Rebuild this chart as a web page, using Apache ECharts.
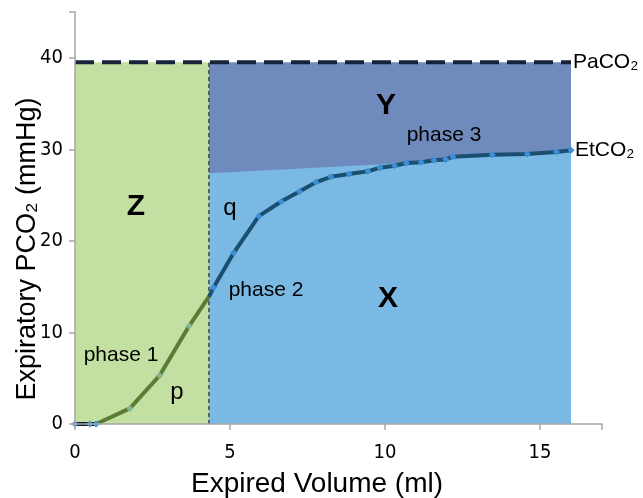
<!DOCTYPE html>
<html><head><meta charset="utf-8">
<script src="https://cdn.jsdelivr.net/npm/echarts@6/dist/echarts.min.js"></script>
<style>html,body{margin:0;padding:0;background:#fff}#c{width:643px;height:498px}</style>
</head><body><div id="c"></div>
<script>
// ---- data ----
const xTicks = [0, 5, 10, 15];
const yTicks = [0, 10, 20, 30, 40];
const paCO2 = 39.5;
const deadSpaceEnd = 4.32;
const volumeEnd = 16;
const baselineSeg = [[0, 0], [0.48, 0], [0.68, 0]];
const phase1Seg = [[0.68, 0], [1.77, 1.7], [2.73, 5.3], [3.68, 10.7], [4.32, 13.9]];
const phase23Seg = [[4.32, 13.9], [4.47, 14.9], [5.12, 18.7], [5.93, 22.7], [6.65, 24.3], [7.24, 25.4],
  [7.77, 26.4], [8.25, 27.0], [8.84, 27.3], [9.45, 27.6], [9.84, 28.0], [10.31, 28.2], [10.69, 28.5],
  [11.17, 28.6], [11.58, 28.8], [11.96, 28.9], [12.19, 29.2], [13.46, 29.4], [14.59, 29.5],
  [15.53, 29.7], [16.0, 29.9]];
const alveolarStart = [4.32, 27.4];

// ---- derived ----
const alveolarTop = [alveolarStart].concat(phase23Seg.filter(p => p[0] >= 10.69));
function withMarkers(seg, skipFirst, skipLast) {
  return seg.map((p, i) => {
    const skip = (skipFirst && i === 0) || (skipLast && i === seg.length - 1);
    return skip ? { value: p, symbol: 'none' } : { value: p };
  });
}
const SANS = '"Liberation Sans", Arial, sans-serif';
const NARROW = '"Liberation Sans Narrow", "Arial Narrow", "DejaVu Sans Condensed", sans-serif';

const chart = echarts.init(document.getElementById('c'), null, { renderer: 'canvas' });
function areaSeries(data, color, z) {
  return { type: 'line', data, symbol: 'none', lineStyle: { width: 0 },
    areaStyle: { color, opacity: 1 }, z, silent: true };
}
function txt(x, y, text, font, rotation) {
  return { type: 'text', x, y, rotation: rotation || 0, z: 100,
    style: { text, font, fill: '#000', align: 'center', verticalAlign: 'middle' } };
}
chart.setOption({
  animation: false,
  grid: { left: 75, right: 41, top: 12, bottom: 74 },
  xAxis: {
    type: 'value', min: 0, max: 17, interval: 5, z: 10,
    splitLine: { show: false },
    axisLine: { lineStyle: { color: '#a6a6a6', width: 1.5 } },
    axisTick: { length: 6, lineStyle: { color: '#a6a6a6', width: 1.5 } },
    axisLabel: { margin: 19, fontSize: 20, fontFamily: NARROW, color: '#000',
      formatter: v => xTicks.includes(v) ? String(v) : '' }
  },
  yAxis: {
    type: 'value', min: 0, max: 45, interval: 10, z: 10,
    splitLine: { show: false },
    axisLine: { show: true, lineStyle: { color: '#a6a6a6', width: 1.5 } },
    axisTick: { show: true, length: 6, lineStyle: { color: '#a6a6a6', width: 1.5 } },
    axisLabel: { margin: 12, fontSize: 20, fontFamily: NARROW, color: '#000',
      formatter: v => yTicks.includes(v) ? String(v) : '' }
  },
  series: [
    areaSeries([[0, paCO2], [deadSpaceEnd, paCO2]], '#c3dfa2', 1),
    areaSeries([[deadSpaceEnd, paCO2], [volumeEnd, paCO2]], '#6f8abc', 1),
    areaSeries(alveolarTop, '#79b9e3', 2),
    { type: 'line', data: [[deadSpaceEnd, 0], [deadSpaceEnd, paCO2]], symbol: 'none', z: 3,
      lineStyle: { color: '#3a4a52', width: 1.5, type: [4, 3] } },
    { type: 'line', data: [[0, paCO2], [volumeEnd, paCO2]], symbol: 'none', z: 6,
      lineStyle: { color: '#17233a', width: 4, type: [19, 8] } },
    { type: 'line', data: withMarkers(baselineSeg, false, false), symbol: 'diamond', symbolSize: 7, z: 7,
      lineStyle: { color: '#1a1a1a', width: 4 }, itemStyle: { color: '#3a8fd6' } },
    { type: 'line', data: withMarkers(phase1Seg, true, true), symbol: 'diamond', symbolSize: 7, z: 7,
      lineStyle: { color: '#5b7c33', width: 4 }, itemStyle: { color: '#86b596' } },
    { type: 'line', data: withMarkers(phase23Seg, true, false), symbol: 'diamond', symbolSize: 7, z: 7,
      lineStyle: { color: '#1a4f70', width: 4 }, itemStyle: { color: '#3a8fd6' } }
  ],
  graphic: [
    txt(136, 207, 'Z', 'bold 30px ' + SANS),
    txt(386, 106, 'Y', 'bold 30px ' + SANS),
    txt(388, 299, 'X', 'bold 30px ' + SANS),
    txt(444, 135, 'phase 3', '21px ' + SANS),
    txt(266, 290, 'phase 2', '21px ' + SANS),
    txt(121, 355, 'phase 1', '21px ' + SANS),
    txt(230, 208, 'q', '24px ' + SANS),
    txt(177, 392, 'p', '24px ' + SANS),
    { type: 'text', x: 573, y: 62, z: 100, style: { text: 'PaCO₂', font: '21px ' + SANS, fill: '#000', align: 'left', verticalAlign: 'middle' } },
    { type: 'text', x: 575, y: 150, z: 100, style: { text: 'EtCO₂', font: '21px ' + SANS, fill: '#000', align: 'left', verticalAlign: 'middle' } },
    txt(317, 484, 'Expired Volume (ml)', '28px ' + SANS),
    txt(28, 249, 'Expiratory PCO₂ (mmHg)', '27px ' + SANS, Math.PI / 2)
  ]
});
</script></body></html>
